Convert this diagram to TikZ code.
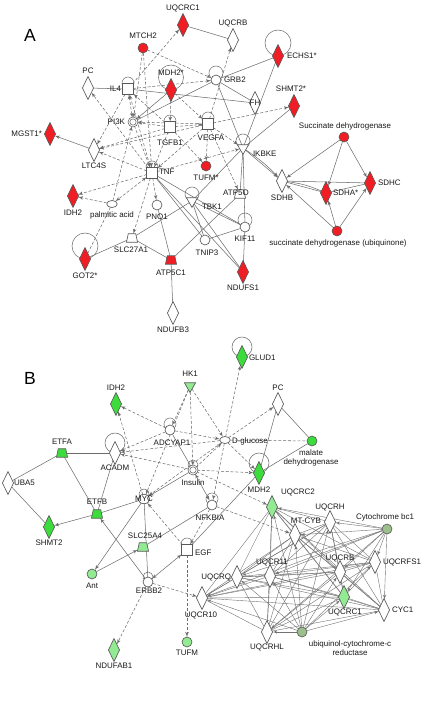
\documentclass[tikz,border=0pt]{standalone}
\usepackage{fontspec}
\setmainfont{Liberation Sans}
\usepackage{tikz}
\usetikzlibrary{arrows,backgrounds,shapes.geometric}
\definecolor{ipared}{HTML}{F01E24}
\definecolor{ipagreen}{HTML}{3CDC3C}
\definecolor{ipalgreen}{HTML}{92EA92}
\definecolor{ipagrey}{HTML}{9CC08C}
\definecolor{edgegrey}{HTML}{6C6C6C}
\newcommand\uqcrlist{bUQCRC2,bUQCRH,bMTCYB,bUQCRFS1,bUQCRB,bUQCR11,bUQCRQ,bUQCR10,bUQCRC1,bCYC1,bUQCRHL}

\begin{document}
\begin{tikzpicture}[>=latex',x=0.03cm,y=-0.03cm,
  every node/.style={inner sep=0pt,outer sep=0pt},
  gene/.style={draw=black!65,line width=0.55pt,fill=white},
  enzyme/.style={gene,diamond,minimum width=9.5pt,minimum height=19.5pt},
  other/.style={gene,circle,minimum size=8.5pt},
  cplx/.style={gene,circle,double,double distance=0.8pt,minimum size=7pt},
  cyto/.style={gene,rectangle,minimum size=9pt},
  transp/.style={gene,trapezium,trapezium left angle=78,trapezium right angle=78,inner xsep=3.2pt,inner ysep=3.6pt},
  kinase/.style={gene,regular polygon,regular polygon sides=3,shape border rotate=180,minimum size=11pt},
  chem/.style={gene,ellipse,minimum width=9pt,minimum height=6pt},
  lbl/.style={font=\fontsize{6.8}{7.4}\selectfont,text=black!90,align=center},
  panel/.style={font=\fontsize{15}{17}\selectfont},
  wire/.style={draw=edgegrey,line width=0.45pt},
  dl/.style={wire,dash pattern=on 2.5pt off 1.6pt},
  cl/.style={draw=black!55,line width=0.35pt}]
\useasboundingbox (0,0) rectangle (426,706);

% ---- panel A
\node[panel] at (30,35) (pA) {A};
\node[enzyme,fill=ipared] at (183,25) (aUQCRC1) {};
\node[other,fill=ipared] at (143,48) (aMTCH2) {};
\node[enzyme] at (233,40) (aUQCRB) {};
\node[enzyme,fill=ipared] at (278,56) (aECHS1) {};
\node[enzyme] at (88,88) (aPC) {};
\node[cyto] at (128,89) (aIL4) {};
\node[enzyme,fill=ipared] at (171,90) (aMDH2) {};
\node[other] at (216,80) (aGRB2) {};
\node[enzyme] at (255,103) (aFH) {};
\node[enzyme,fill=ipared] at (294,106) (aSHMT2) {};
\node[cplx] at (133,122) (aPI3K) {};
\node[cyto] at (170,127) (aTGFB1) {};
\node[cyto] at (208,124) (aVEGFA) {};
\node[enzyme,fill=ipared] at (50,134) (aMGST1) {};
\node[enzyme] at (94,150) (aLTC4S) {};
\node[other,fill=ipared] at (344,137) (aSDH) {};
\node[kinase] at (243,148) (aIKBKE) {};
\node[other,fill=ipared] at (206,166) (aTUFM) {};
\node[cyto] at (152,173) (aTNF) {};
\node[enzyme,fill=ipared] at (73,196) (aIDH2) {};
\node[chem] at (112,204) (aPALM) {};
\node[other] at (157,205) (aPNO1) {};
\node[kinase] at (192,201) (aTBK1) {};
\node[transp] at (240,194) (aATP5O) {};
\node[enzyme] at (282,181) (aSDHB) {};
\node[enzyme,fill=ipared] at (326,193) (aSDHA) {};
\node[enzyme,fill=ipared] at (370,183) (aSDHC) {};
\node[other] at (245,227) (aKIF11) {};
\node[transp] at (132,238) (aSLC27A1) {};
\node[other] at (205,240) (aTNIP3) {};
\node[other,fill=ipared] at (337,231) (aSDHU) {};
\node[enzyme,fill=ipared] at (85,259) (aGOT2) {};
\node[transp,fill=ipared] at (171,260) (aATP5C1) {};
\node[enzyme,fill=ipared] at (243,272) (aNDUFS1) {};
\node[enzyme] at (173,313) (aNDUFB3) {};

% ---- panel B
\node[panel] at (30,378) (pB) {B};
\node[kinase,fill=ipalgreen] at (190,386) (bHK1) {};
\node[enzyme,fill=ipagreen] at (242,357) (bGLUD1) {};
\node[enzyme,fill=ipagreen] at (116,404) (bIDH2) {};
\node[enzyme] at (278,404) (bPC) {};
\node[other] at (170,430) (bADCYAP1) {};
\node[chem] at (225,440) (bDGLC) {};
\node[other,fill=ipagreen] at (312,441) (bMALATE) {};
\node[transp,fill=ipagreen] at (62,453) (bETFA) {};
\node[enzyme] at (115,453) (bACADM) {};
\node[cplx] at (193,470) (bINS) {};
\node[enzyme,fill=ipagreen] at (259,473) (bMDH2) {};
\node[enzyme] at (8,483) (bUBA5) {};
\node[enzyme,fill=ipalgreen] at (272,507) (bUQCRC2) {};
\node[other,ellipse,minimum width=10pt,minimum height=8pt] at (144,499) (bMYC) {};
\node[transp,fill=ipagreen] at (97,514) (bETFB) {};
\node[other] at (212,505) (bNFKBIA) {};
\node[enzyme] at (330,522) (bUQCRH) {};
\node[other,fill=ipagrey] at (387,529) (bCYTBC1) {};
\node[enzyme] at (295,535) (bMTCYB) {};
\node[enzyme,fill=ipagreen] at (49,527) (bSHMT2) {};
\node[transp,fill=ipalgreen] at (143,547) (bSLC25A4) {};
\node[cyto] at (187,550) (bEGF) {};
\node[enzyme] at (270,576) (bUQCR11) {};
\node[enzyme] at (340,572) (bUQCRB) {};
\node[enzyme] at (375,562) (bUQCRFS1) {};
\node[enzyme] at (237,577) (bUQCRQ) {};
\node[other,fill=ipalgreen] at (92,574) (bANT) {};
\node[other] at (148,582) (bERBB2) {};
\node[enzyme] at (202,598) (bUQCR10) {};
\node[enzyme,fill=ipalgreen] at (344,597) (bUQCRC1) {};
\node[enzyme] at (384,610) (bCYC1) {};
\node[enzyme] at (267,632) (bUQCRHL) {};
\node[other,fill=ipagrey] at (302,632) (bUBIQ) {};
\node[other,fill=ipalgreen] at (187,642) (bTUFM) {};
\node[enzyme,fill=ipalgreen] at (114,650) (bNDUFAB1) {};

% labels
\foreach \x/\y/\n/\a/\t in {183/8/aUQCRC1/center/UQCRC1, 143/36/aMTCH2/center/MTCH2,
  233/23/aUQCRB/center/UQCRB, 287/56/aECHS1/west/ECHS1*, 88/71/aPC/center/PC,
  121/89/aIL4/east/IL4, 171/73/aMDH2/center/MDH2*, 224/80/aGRB2/west/GRB2,
  255/103/aFH/center/FH, 291/89/aSHMT2/center/SHMT2*, 125/122/aPI3K/east/PI3K,
  170/143/aTGFB1/center/TGFB1, 211/138/aVEGFA/center/VEGFA, 42/134/aMGST1/east/MGST1*,
  94/166/aLTC4S/center/LTC4S, 345/126/aSDH/center/Succinate dehydrogenase,
  253/154/aIKBKE/west/IKBKE, 206/178/aTUFM/center/TUFM*, 159/172/aTNF/west/TNF,
  73/213/aIDH2/center/IDH2, 112/215/aPALM/center/palmitic acid, 157/217/aPNO1/center/PNO1,
  202/207/aTBK1/west/TBK1, 236/193/aATP5O/center/ATP5O, 282/198/aSDHB/center/SDHB,
  333/193/aSDHA/west/SDHA*, 378/183/aSDHC/west/SDHC, 245/239/aKIF11/center/KIF11,
  131/250/aSLC27A1/center/SLC27A1, 207/253/aTNIP3/center/TNIP3,
  338/243/aSDHU/center/succinate dehydrogenase (ubiquinone), 85/276/aGOT2/center/GOT2*,
  171/273/aATP5C1/center/ATP5C1, 243/288/aNDUFS1/center/NDUFS1, 173/330/aNDUFB3/center/NDUFB3,
  190/374/bHK1/center/HK1, 249/358/bGLUD1/west/GLUD1, 116/388/bIDH2/center/IDH2,
  278/388/bPC/center/PC, 172/443/bADCYAP1/center/ADCYAP1, 232/441/bDGLC/west/D-glucose,
  62/442/bETFA/center/ETFA, 115/468/bACADM/center/ACADM, 193/483/bINS/center/Insulin,
  259/490/bMDH2/center/MDH2, 14/483/bUBA5/west/UBA5, 298/492/bUQCRC2/center/UQCRC2,
  144/499/bMYC/center/MYC, 97/502/bETFB/center/ETFB, 210/518/bNFKBIA/center/NFKBIA,
  330/507/bUQCRH/center/UQCRH, 385/517/bCYTBC1/center/Cytochrome bc1,
  306/521/bMTCYB/center/MT-CYB, 49/543/bSHMT2/center/SHMT2, 145/536/bSLC25A4/center/SLC25A4,
  195/553/bEGF/west/EGF, 272/562/bUQCR11/center/UQCR11, 340/558/bUQCRB/center/UQCRB,
  383/562/bUQCRFS1/west/UQCRFS1, 231/577/bUQCRQ/east/UQCRQ, 92/586/bANT/center/Ant,
  149/591/bERBB2/center/ERBB2, 201/615/bUQCR10/center/UQCR10, 345/612/bUQCRC1/center/UQCRC1,
  392/610/bCYC1/west/CYC1, 267/647/bUQCRHL/center/UQCRHL, 187/653/bTUFM/center/TUFM,
  114/666/bNDUFAB1/center/NDUFAB1}
  \node[lbl,anchor=\a] at (\x,\y) (l\n) {\t};
\node[lbl] at (311,458) (lbMALATE) {malate\\dehydrogenase};
\node[lbl] at (350,648) (lbUBIQ) {ubiquinol-cytochrome-c\\reductase};

\begin{scope}[on background layer]
% self loops
\foreach \n/\r in {aECHS1/13,aMDH2/12.5,aGOT2/13,aIL4/6,aGRB2/7,aTGFB1/6,aVEGFA/6,aTNF/6,
  aIKBKE/7,aTBK1/7,aKIF11/7,bGLUD1/10,bACADM/10,bMDH2/10,bADCYAP1/6,bNFKBIA/6,bERBB2/5,
  bEGF/6,bINS/5,bMYC/5}
  \draw[wire] (\n.center) ++(0,-\r) circle (\r);

% dashed arrows
\foreach \s/\t in {aMTCH2/aGRB2,aMTCH2/aPI3K,aMTCH2/aTNF,aIL4/aUQCRC1,aIL4/aGRB2,aVEGFA/aUQCRB,
  aTGFB1/aPI3K,aVEGFA/aPI3K,aTGFB1/aVEGFA,aMDH2/aVEGFA,aMDH2/aTGFB1,aVEGFA/aSHMT2,
  aVEGFA/aIKBKE,aVEGFA/aTUFM,aVEGFA/aATP5O,aTGFB1/aTUFM,aTGFB1/aLTC4S,aIL4/aLTC4S,
  aTNF/aPC,aTNF/aLTC4S,aTNF/aIDH2,aPALM/aIDH2,aTNF/aIKBKE,aTNF/aPNO1,aTNF/aSLC27A1,
  aPI3K/aTNF,aTGFB1/aTNF,aVEGFA/aTNF,aVEGFA/aLTC4S,aPALM/aPI3K,aTGFB1/aIL4,
  bHK1/bADCYAP1,bHK1/bMYC,bHK1/bINS,bHK1/bDGLC,bADCYAP1/bIDH2,bMYC/bIDH2,bADCYAP1/bACADM,
  bDGLC/bACADM,bINS/bACADM,bADCYAP1/bDGLC,bINS/bDGLC,bDGLC/bGLUD1,bDGLC/bPC,bDGLC/bMDH2,
  bINS/bMDH2,bINS/bUQCRC2,bDGLC/bMYC,bDGLC/bNFKBIA,bNFKBIA/bMTCYB,bEGF/bMYC,bEGF/bTUFM,
  bERBB2/bNDUFAB1,bERBB2/bUQCR10,bNFKBIA/bEGF}
  \draw[dl,->] (\s) -- (\t);
\foreach \s/\t in {aIL4/aPI3K,aIL4/aTNF,aTNF/aPALM}
  \draw[dl,<->] (\s) -- (\t);
\foreach \s/\t in {aPALM/aGOT2,bDGLC/bMALATE}
  \draw[dl] (\s) -- (\t);

% solid lines
\foreach \s/\t in {aPC/aIL4,aIL4/aFH,aUQCRC1/aUQCRB,aGRB2/aECHS1,aGRB2/aFH,aGRB2/aIKBKE,
  aECHS1/aIKBKE,aIKBKE/aSHMT2,aGRB2/aPI3K,aIKBKE/aATP5O,aIKBKE/aKIF11,aIKBKE/aTBK1,
  aTNF/aTNIP3,aTNF/aNDUFS1,aTNF/aKIF11,aTBK1/aKIF11,aTBK1/aNDUFS1,aTBK1/aTNIP3,
  aKIF11/aTNIP3,aKIF11/aNDUFS1,aSLC27A1/aTBK1,aSLC27A1/aATP5C1,aSLC27A1/aGOT2,
  aPNO1/aATP5C1,aATP5O/aATP5C1,aATP5C1/aNDUFB3,aSDHB/aSDHA,aSDHB/aSDHC,aSDHA/aSDHC,
  bETFA/bACADM,bETFA/bUBA5,bETFA/bETFB,bACADM/bETFB,bUBA5/bSHMT2,bETFB/bMYC,bMYC/bERBB2,
  bADCYAP1/bINS,bPC/bMDH2,bPC/bMALATE,bMALATE/bMDH2,bNFKBIA/bSLC25A4,bMDH2/bEGF}
  \draw[wire] (\s) -- (\t);
\draw[wire] (aSDHB) to[bend left=8] (aSDHA);
\foreach \s/\t in {aMDH2/aPI3K,aLTC4S/aMGST1,aIKBKE/aSDHB,aSDH/aSDHB,aSDH/aSDHA,aSDH/aSDHC,
  aSDHU/aSDHB,aSDHU/aSDHA,aSDHU/aSDHC,bETFB/bSHMT2,bERBB2/bETFB,bMYC/bANT,bANT/bSLC25A4,
  bINS/bMYC}
  \draw[wire,->] (\s) -- (\t);
\draw[wire,->] (aIKBKE) to[bend left=6] (aSDHB);
\foreach \s/\t in {bEGF/bERBB2,bINS/bNFKBIA}
  \draw[wire,<->] (\s) -- (\t);

% cytochrome bc1 complex
\foreach \a [count=\i] in \uqcrlist
  \foreach \b [count=\j] in \uqcrlist
    {\ifnum\j>\i\relax \draw[cl] (\a) -- (\b); \fi}
\foreach \m in \uqcrlist
  {\draw[cl,->] (bCYTBC1) -- (\m);
   \draw[cl,->] (bUBIQ) -- (\m);}
\end{scope}
\end{tikzpicture}
\end{document}
